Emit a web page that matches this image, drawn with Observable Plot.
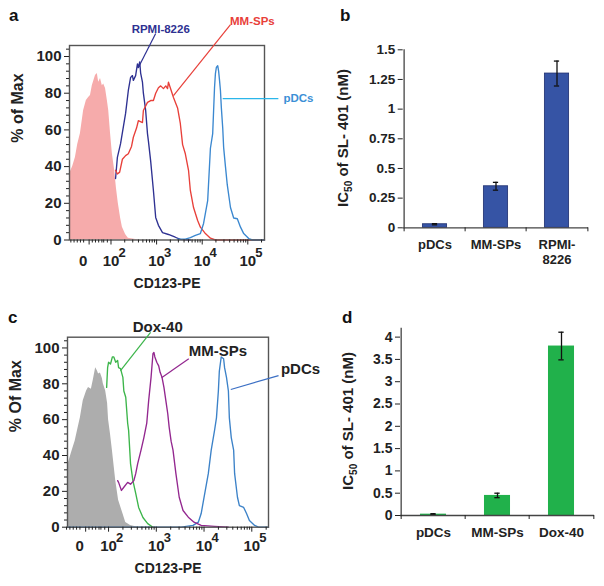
<!DOCTYPE html>
<html><head><meta charset="utf-8">
<script src="https://cdn.jsdelivr.net/npm/d3@7"></script>
<script src="https://cdn.jsdelivr.net/npm/@observablehq/plot@0.6"></script>
<style>
html,body{margin:0;padding:0;background:#fff;overflow:hidden;}
#fig{position:relative;width:604px;height:586px;font-family:"Liberation Sans",Arial,sans-serif;}
.panel{position:absolute;}
.letter{position:absolute;font-weight:bold;font-size:17px;line-height:17px;color:#111;}
</style></head><body>
<div id="fig"></div>
<script>
// ---------- Panel a data (x = decade position on biexponential display, y = % of Max) ----------
const aIsoX = [1.09,1.16,1.22,1.27,1.33,1.40,1.46,1.51,1.55,1.59,1.66,1.70,1.73,1.77,1.81,1.84,1.88,1.92,1.95,1.99,2.03,2.08,2.12,2.16,2.21,2.25,2.32,2.38,2.54,2.65];
const aIsoY = [36,40,45,52,58,70.6,76,77.7,78.7,84,89.6,90.7,86,88,84,85,82.5,76,70.6,58,47,38,28,20,12,7,3,1,0.3,0];
const aRpmiX = [2.10,2.14,2.21,2.32,2.38,2.43,2.47,2.49,2.54,2.58,2.60,2.63,2.65,2.69,2.71,2.76,2.80,2.82,2.87,2.93,2.98,3.04,3.13,3.26,3.41,3.52,3.74];
const aRpmiY = [33.5,45,52.5,69,81.5,88.6,89.6,87,89.6,96,94,97,91,86,80,70.6,58,54,43,27,12.3,8,4,3,1.5,0.3,0];
const aMmX = [2.10,2.14,2.19,2.25,2.32,2.38,2.45,2.49,2.56,2.60,2.69,2.71,2.80,2.87,2.93,2.98,3.04,3.09,3.15,3.20,3.24,3.26,3.30,3.37,3.46,3.52,3.57,3.63,3.70,3.74,3.81,3.90,3.96,4.07,4.18,4.29,5.366];
const aMmY = [38,36,37,44,46,47,51,56,61,65,64,70.6,75,76,76,80,83,84,82.5,84,82.5,86,83,77.7,72,63.5,52,47,38,27,17.7,10.6,7,3.5,1,0,0];
const aPdcX = [3.46,3.63,3.74,3.85,3.96,4.03,4.12,4.18,4.23,4.25,4.27,4.29,4.31,4.34,4.36,4.38,4.40,4.42,4.45,4.47,4.51,4.55,4.62,4.69,4.77,4.84,4.91,5.02,5.10,5.366];
const aPdcY = [0.5,0.5,1.3,2.5,3.5,9,21.5,50,58,70.6,83,90.7,94,95,92,87,81.5,72,61,50.5,40,30,17.7,12,11.6,7,3.5,0.8,0,0];

// ---------- Panel c data ----------
const cIsoX = [1.14,1.16,1.24,1.30,1.35,1.41,1.47,1.54,1.58,1.64,1.68,1.73,1.77,1.79,1.83,1.87,1.89,1.94,1.98,2.00,2.04,2.08,2.15,2.21,2.30,2.36,2.46,2.61];
const cIsoY = [35.5,36,43,48,54,61,70.6,76,78,77,82,89,87,85.5,86,83,80,76,69,60,52,43,26,15,7.6,2.6,1,0];
const cDoxX = [1.96,1.98,2.00,2.04,2.06,2.08,2.11,2.15,2.19,2.21,2.25,2.30,2.32,2.36,2.40,2.42,2.46,2.51,2.57,2.63,2.72,2.82,2.93];
const cDoxY = [78,89,92,91,93,95,95,92,93,89,88.5,83.6,76,72.5,58,54,35.5,26,18.7,11,5.4,2,0];
const cMmX = [2.19,2.21,2.27,2.32,2.40,2.46,2.53,2.57,2.61,2.68,2.74,2.80,2.84,2.89,2.93,2.95,2.97,3.01,3.05,3.08,3.12,3.16,3.20,3.24,3.27,3.31,3.35,3.41,3.48,3.56,3.67,3.79,3.94,4.22,4.51];
const cMmY = [26,25,20.5,22.3,25,24,26,30,35.5,43,50,58,70.6,83.6,96.8,97.5,95,92,90,86.4,83.6,78,70.6,63.3,55.7,48,43,30,16.7,9.3,5.6,2.8,1,0.5,0];
const cPdcX = [1.14,3.52,3.77,3.88,3.94,4.00,4.09,4.15,4.22,4.26,4.30,4.32,4.36,4.41,4.43,4.47,4.51,4.53,4.57,4.62,4.64,4.70,4.74,4.83,4.89,4.95,5.06,5.14,5.35];
const cPdcY = [0,0,1,2.8,7.6,16.7,30,43,54,61,76,87,95,94,89,83.6,76,61,50,43,30,16.7,12,11,7.6,3.7,1,0,0];

// ---------- Flow axes ----------
const decadeTicks = [2,3,4,5];
const exponentLabels = ["2","3","4","5"];
const zeroTick = 1.52;
const zeroRegionMinor = [1.12,1.19,1.26,1.33,1.40,1.59,1.66,1.73,1.80,1.84,1.92];
const pctTicks = [0,20,40,60,80,100];

// ---------- Bar data ----------
const bCats = ["pDCs","MM-SPs","RPMI-8226"];
const bLabels = ["pDCs","MM-SPs","RPMI-\n8226"];
const bVals = [0.03,0.35,1.30];
const bErrs = [0.005,0.033,0.105];
const bTicks = [0,0.25,0.5,0.75,1,1.25,1.5];

const dCats = ["pDCs","MM-SPs","Dox-40"];
const dLabels = ["pDCs","MM-SPs","Dox-40"];
const dVals = [0.03,0.45,3.80];
const dErrs = [0.01,0.05,0.31];
const dTicks = [0,0.5,1,1.5,2,2.5,3,3.5,4];

const FONT = '"Liberation Sans", Arial, sans-serif';
const fig = document.getElementById("fig");
function place(el, left, top) {
  const div = document.createElement("div");
  div.className = "panel";
  div.style.left = left + "px"; div.style.top = top + "px";
  div.appendChild(el); fig.appendChild(div); return div;
}
const pts = (xs, ys) => xs.map((x, i) => ({x, y: ys[i]}));
const logMinor = d3.range(2, 6).flatMap(n => d3.range(2, 10).map(k => n + Math.log10(k)));
const minorPct = d3.range(0, 106, 4).filter(v => v % 20 !== 0);

function flowPlot(cfg) {
  const marks = [];
  marks.push(Plot.areaY(pts(cfg.fill.x, cfg.fill.y), {x: "x", y: "y", fill: cfg.fill.color}));
  for (const s of cfg.lines) marks.push(Plot.line(pts(s.x, s.y), {x: "x", y: "y", stroke: s.color, strokeWidth: 1.35}));
  marks.push(Plot.frame({stroke: "#555", strokeWidth: 1.4}));
  marks.push(Plot.axisY({ticks: pctTicks, tickSize: 5, tickPadding: 3, label: null, tickFormat: d => String(d)}));
  marks.push(Plot.axisY({ticks: minorPct, tickSize: 3, tickFormat: () => "", label: null}));
  marks.push(Plot.axisX({ticks: [zeroTick, ...decadeTicks], tickSize: 5, tickFormat: () => "", label: null}));
  marks.push(Plot.axisX({ticks: [...zeroRegionMinor, ...logMinor.filter(v => v < cfg.xDomain[1])], tickSize: 3, tickFormat: () => "", label: null}));
  marks.push(Plot.text(decadeTicks, {x: d => d, text: () => "10", frameAnchor: "bottom", dy: cfg.labDy, fontSize: 15}));
  marks.push(Plot.text(decadeTicks, {x: d => d, text: (d, i) => exponentLabels[i], frameAnchor: "bottom", dx: 11, dy: cfg.expDy, fontSize: 13}));
  marks.push(Plot.text([zeroTick], {x: d => d, text: () => "0", frameAnchor: "bottom", dx: -6, dy: cfg.labDy, fontSize: 15}));
  marks.push(Plot.text([cfg.xTitle], {frameAnchor: "bottom", dy: cfg.xTitleDy, fontSize: 14}));
  marks.push(Plot.text([cfg.yTitle], {frameAnchor: "left", dx: -52, rotate: -90, fontSize: 16}));
  for (const a of cfg.annots) {
    marks.push(Plot.link([a], {x1: "x1", y1: "y1", x2: "x2", y2: "y2", stroke: a.line, strokeWidth: 1.2}));
    marks.push(Plot.text([a], {x: "tx", y: "ty", text: "label", fill: a.textColor, fontSize: cfg.annotSize, textAnchor: a.anchor || "middle"}));
  }
  return Plot.plot({
    width: cfg.width, height: cfg.height,
    marginLeft: cfg.ml, marginRight: cfg.mr, marginTop: cfg.mt, marginBottom: cfg.mb,
    x: {domain: cfg.xDomain}, y: {domain: [0, 106]},
    style: {background: "none", overflow: "visible", fontFamily: FONT, fontWeight: "bold", fontSize: "15px", color: "#222"},
    marks
  });
}

function barPlot(cfg) {
  const data = cfg.cats.map((c, i) => ({cat: c, val: cfg.vals[i], err: cfg.errs[i]}));
  const inner = cfg.width - cfg.ml - cfg.mr;
  const bw = inner / cfg.cats.length;
  const inset = (bw - cfg.barW) / 2;
  const capInset = (bw - 6) / 2;
  const svg = Plot.plot({
    width: cfg.width, height: cfg.height,
    marginLeft: cfg.ml, marginRight: cfg.mr, marginTop: cfg.mt, marginBottom: cfg.mb,
    x: {domain: cfg.cats, padding: 0}, y: {domain: cfg.yDomain},
    style: {background: "none", overflow: "visible", fontFamily: FONT, fontWeight: "bold", fontSize: cfg.fs, color: "#222"},
    marks: [
      Plot.barY(data, {x: "cat", y: "val", fill: cfg.color, stroke: cfg.stroke, strokeWidth: 0.8, insetLeft: inset, insetRight: inset}),
      Plot.ruleX(data, {x: "cat", y1: d => d.val - d.err, y2: d => d.val + d.err, stroke: "#111", strokeWidth: 1.3}),
      Plot.tickY(data, {x: "cat", y: d => d.val + d.err, insetLeft: capInset, insetRight: capInset, stroke: "#111", strokeWidth: 1.3}),
      Plot.tickY(data, {x: "cat", y: d => d.val - d.err, insetLeft: capInset, insetRight: capInset, stroke: "#111", strokeWidth: 1.3}),
      Plot.ruleX([cfg.cats[0]], {x: d => d, dx: -bw / 2, y1: 0, y2: cfg.yDomain[1], stroke: "#444", strokeWidth: 1.3}),
      Plot.ruleY([0], {stroke: "#444", strokeWidth: 1.3}),
      Plot.axisY({ticks: cfg.yTicks, tickSize: 5, tickPadding: 3, label: null, tickFormat: d => String(d)}),
      Plot.axisX({tickSize: 0, tickPadding: cfg.xPad, label: null, lineHeight: 1.15, fontSize: cfg.xfs, tickFormat: d => cfg.labels[cfg.cats.indexOf(d)]}),
      Plot.axisX({tickSize: 4, tickFormat: () => "", dx: -bw / 2, label: null}),
      Plot.axisX({ticks: [cfg.cats[cfg.cats.length - 1]], tickSize: 4, tickFormat: () => "", dx: bw / 2, label: null})
    ]
  });
  // y title with subscript
  const t = d3.select(svg).append("text")
    .attr("transform", `translate(${cfg.titleX},${cfg.titleY}) rotate(-90)`)
    .attr("text-anchor", "middle").attr("font-size", 15).attr("font-weight", "bold").attr("fill", "#222");
  t.append("tspan").text("IC");
  t.append("tspan").attr("font-size", 10).attr("dy", 4).text("50");
  t.append("tspan").attr("dy", -4).text(" of SL- 401 (nM)");
  return svg;
}

// Panel a
place(flowPlot({
  width: 330, height: 300, ml: 69, mr: 66, mt: 45, mb: 60.5,
  xDomain: [1.09, 5.366], labDy: 25.5, expDy: 17, xTitleDy: 47.5,
  xTitle: "CD123-PE", yTitle: "% of Max", annotSize: 11.5,
  fill: {x: aIsoX, y: aIsoY, color: "#f6abab"},
  lines: [
    {x: aRpmiX, y: aRpmiY, color: "#2e3192"},
    {x: aMmX, y: aMmY, color: "#e8403a"},
    {x: aPdcX, y: aPdcY, color: "#3b88d0"}
  ],
  annots: [
    {label: "RPMI-8226", tx: 3.09, ty: 114.7, x1: 2.98, y1: 112.5, x2: 2.60, y2: 94, line: "#2e3192", textColor: "#2e3192"},
    {label: "MM-SPs", tx: 5.10, ty: 119, x1: 4.62, y1: 117.4, x2: 3.37, y2: 78.7, line: "#e8403a", textColor: "#e8403a"},
    {label: "pDCs", tx: 5.78, ty: 77.4, x1: 4.45, y1: 77.1, x2: 5.67, y2: 77.1, line: "#2bb6ea", textColor: "#3b8fd6", anchor: "start"}
  ]
}), 0, 0);

// Panel c
place(flowPlot({
  width: 330, height: 296, ml: 67, mr: 62, mt: 46.7, mb: 59.3,
  xDomain: [1.14, 5.35], labDy: 23.5, expDy: 15, xTitleDy: 46,
  xTitle: "CD123-PE", yTitle: "% Of Max", annotSize: 15,
  fill: {x: cIsoX, y: cIsoY, color: "#adadad"},
  lines: [
    {x: cPdcX, y: cPdcY, color: "#3c82c8"},
    {x: cDoxX, y: cDoxY, color: "#3cb54a"},
    {x: cMmX, y: cMmY, color: "#93278f"}
  ],
  annots: [
    {label: "Dox-40", tx: 3.03, ty: 111.5, x1: 2.88, y1: 108.7, x2: 2.25, y2: 87.3, line: "#3cb54a", textColor: "#222"},
    {label: "MM-SPs", tx: 4.29, ty: 98.1, x1: 3.68, y1: 94, x2: 3.11, y2: 83.4, line: "#93278f", textColor: "#222"},
    {label: "pDCs", tx: 5.61, ty: 87.9, x1: 5.56, y1: 84.6, x2: 4.56, y2: 76.8, line: "#3b6fc4", textColor: "#222", anchor: "start"}
  ]
}), 0, 290);

// Panel b
place(barPlot({
  width: 304, height: 300, ml: 102.7, mr: 16, mt: 49.3, mb: 72.7,
  cats: bCats, labels: bLabels, vals: bVals, errs: bErrs, yTicks: bTicks, yDomain: [0, 1.5],
  barW: 25, color: "#3654a5", stroke: "#1e2f6f", fs: "13.5px", xfs: 13, xPad: 11,
  titleX: 48, titleY: 138
}), 300, 0);

// Panel d
place(barPlot({
  width: 304, height: 296, ml: 100, mr: 10, mt: 37.7, mb: 71,
  cats: dCats, labels: dLabels, vals: dVals, errs: dErrs, yTicks: dTicks, yDomain: [0, 4.2],
  barW: 26.7, color: "#21b14b", stroke: "none", fs: "14px", xfs: 13.5, xPad: 10,
  titleX: 53, titleY: 131
}), 300, 290);

// Panel letters
for (const [txt, l, t] of [["a", 9, 6.6], ["b", 340, 6.6], ["c", 8, 309], ["d", 342, 309]]) {
  const el = document.createElement("div");
  el.className = "letter"; el.textContent = txt;
  el.style.left = l + "px"; el.style.top = t + "px";
  fig.appendChild(el);
}
</script></body></html>
